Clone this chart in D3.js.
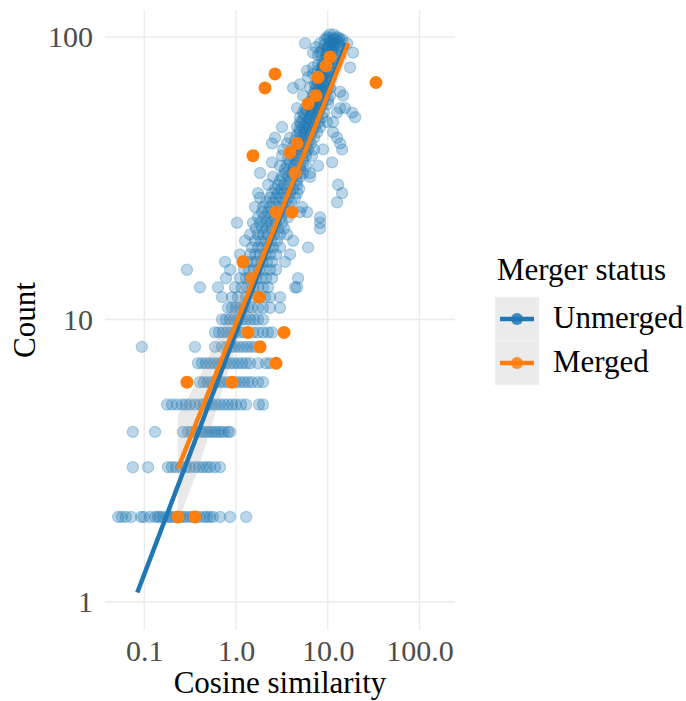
<!DOCTYPE html>
<html>
<head>
<meta charset="utf-8">
<script src="https://cdn.jsdelivr.net/npm/d3@7"></script>
<style>
  body { margin: 0; background: #fff; }
  text { font-family: "Liberation Serif", "DejaVu Serif", serif; }
</style>
</head>
<body>
<script>
// unmerged entities, one row per count: [count, cosine similarities]
let unmergedRows = [
  [2, [0.052, 0.057, 0.063, 0.072, 0.092, 0.099, 0.115, 0.131, 0.141, 0.148, 0.16, 0.177, 0.19, 0.2, 0.22, 0.245, 0.264, 0.285, 0.315, 0.34, 0.366, 0.405, 0.448, 0.482, 0.52, 0.561, 0.669, 0.86, 1.29]],
  [3, [0.075, 0.11, 0.181, 0.2, 0.222, 0.251, 0.285, 0.315, 0.357, 0.395, 0.436, 0.482, 0.521, 0.59, 0.669]],
  [4, [0.075, 0.131, 0.264, 0.3, 0.331, 0.366, 0.405, 0.436, 0.471, 0.507, 0.547, 0.59, 0.637, 0.686, 0.74, 0.818, 0.86]],
  [5, [0.177, 0.2, 0.227, 0.258, 0.285, 0.315, 0.357, 0.405, 0.448, 0.495, 0.547, 0.605, 0.669, 0.74, 0.818, 0.904, 1.0, 1.134, 1.286, 1.78, 1.97]],
  [6, [0.405, 0.448, 0.495, 0.547, 0.605, 0.669, 0.74, 0.818, 1.0, 1.106, 1.223, 1.352, 1.495, 1.739, 1.97]],
  [7, [0.385, 0.426, 0.471, 0.521, 0.576, 0.637, 0.704, 0.778, 0.86, 0.951, 1.052, 1.163, 1.286, 1.422, 1.739, 2.125, 2.35]],
  [8, [0.094, 0.357, 0.59, 0.704, 0.797, 0.882, 0.975, 1.078, 1.192, 1.318, 1.458, 1.612]],
  [9, [0.59, 0.652, 0.721, 0.797, 0.882, 0.975, 1.106, 1.223, 1.533, 1.739, 1.97, 2.235, 2.471]],
  [10, [0.704, 0.778, 0.86, 0.951, 1.052, 1.163, 1.286, 1.422, 1.572, 1.739, 1.97]],
  [11, [0.818, 0.904, 1.0, 1.106, 1.223, 1.352, 1.495, 1.739, 1.97, 2.35, 3.02]],
  [12, [0.704, 0.904, 1.052, 1.286, 1.572, 1.828, 2.072, 2.35, 3.02]],
  [13, [0.405, 0.637, 0.975, 1.163, 1.318, 1.533, 1.739, 1.97, 2.235, 4.4, 4.63]],
  [14, [0.778, 1.106, 1.286, 1.422, 1.653, 1.874, 2.125, 2.471, 4.75]],
  [15, [0.292, 0.86, 1.223, 1.386, 1.572, 1.78, 2.02, 2.35, 2.732]],
  [16, [0.759, 1.318, 1.495, 1.695, 1.922, 2.178, 2.471, 3.425]],
  [17, [1.106, 1.422, 1.612, 1.828, 2.072, 2.35, 2.732, 3.884]],
  [18, [1.495, 1.739, 1.97, 2.235, 2.533, 3.02, 6.106]],
  [19, [1.254, 1.612, 1.874, 2.125, 2.409, 2.8, 4.187]],
  [20, [1.422, 1.739, 1.97, 2.235, 2.598, 3.02, 3.6]],
  [21, [1.653, 1.922, 2.178, 2.471, 2.874, 3.341, 8.25]],
  [22, [1.025, 1.533, 1.828, 2.125, 2.409, 2.732, 3.176, 8.25]],
  [23, [1.739, 2.02, 2.35, 2.664, 3.097, 3.695, 8.25]],
  [24, [1.922, 2.235, 2.598, 3.02, 3.512, 4.99, 5.95]],
  [25, [1.612, 1.97, 2.35, 2.8, 3.257, 3.786, 5.25]],
  [26, [2.125, 2.533, 2.945, 3.425, 3.982, 12.64]],
  [27, [1.828, 2.35, 2.732, 3.176, 3.695, 4.404]],
  [28, [1.739, 2.471, 2.874, 3.341, 3.884, 4.63, 14.34]],
  [29, [2.664, 3.097, 3.6, 4.187, 4.867]],
  [30, [2.235, 2.874, 3.341, 3.884, 4.63, 12.97]],
  [31, [3.0, 3.9, 4.6]],
  [32, [2.533, 3.176, 3.695, 4.294, 4.99, 6.42]],
  [33, [1.828, 3.425, 4.083, 4.75, 5.383, 6.42]],
  [34, [3.4, 4.2, 5.0]],
  [35, [3.02, 3.6, 4.294, 4.99, 5.805, 7.85]],
  [36, [2.471, 3.884, 4.63, 5.383, 11.16]],
  [37, [3.7, 4.5, 5.3]],
  [38, [3.176, 4.083, 4.867, 5.805, 6.75]],
  [39, [4.0, 4.9, 5.7]],
  [40, [3.257, 4.404, 5.25, 6.106, 7.1, 8.9, 14.34]],
  [41, [4.2, 5.0, 5.9]],
  [42, [2.471, 3.6, 4.75, 5.66, 6.58, 13.64]],
  [43, [4.4, 5.3, 6.2]],
  [44, [2.664, 3.884, 5.12, 6.106, 7.1, 12.64]],
  [45, [4.6, 5.5, 6.5]],
  [46, [4.99, 5.66, 6.58, 7.65, 11.44]],
  [47, [4.9, 5.8, 6.8]],
  [48, [3.176, 4.63, 5.52, 6.26, 7.28, 8.25]],
  [49, [5.1, 6.1, 7.2]],
  [50, [4.99, 5.95, 6.92, 8.05, 9.83, 11.44]],
  [51, [5.4, 6.3, 7.5]],
  [52, [4.99, 6.42, 7.46, 8.68, 19.9]],
  [53, [5.6, 6.6, 7.7]],
  [54, [5.383, 6.75, 7.85, 9.13, 12.64, 18.44]],
  [55, [5.9, 6.9, 8.0]],
  [56, [4.63, 5.66, 7.1, 8.25, 13.64, 15.46]],
  [57, [6.2, 7.3, 8.4]],
  [58, [6.42, 7.46, 8.68, 10.09]],
  [59, [6.5, 7.6, 8.8]],
  [60, [6.92, 8.25, 10.09]],
  [61, [6.8, 7.9, 9.1]],
  [62, [5.383, 7.65, 8.9, 10.61, 14.7]],
  [63, [7.0, 8.2, 9.5]],
  [64, [7.65, 8.9, 13.64]],
  [65, [7.3, 8.6, 9.9]],
  [66, [4.187, 6.42, 8.25, 10.61]],
  [67, [7.5, 8.9, 10.3]],
  [68, [4.99, 7.28, 9.36]],
  [69, [7.8, 9.2]],
  [70, [7.85, 9.83]],
  [71, [8.0, 9.5, 10.8]],
  [72, [6.106, 8.68]],
  [73, [8.3, 9.8]],
  [74, [6.92, 9.36]],
  [75, [8.5, 10.1]],
  [76, [5.95, 7.85, 10.61]],
  [77, [8.7, 10.4, 11.6]],
  [78, [6.92, 8.68, 17.53]],
  [79, [8.9, 10.7]],
  [80, [7.85, 12.03]],
  [81, [9.1, 11.0]],
  [83, [8.68, 10.61]],
  [84, [9.4, 11.3]],
  [86, [7.85, 9.83, 13.64]],
  [87, [9.6, 11.6]],
  [88, [6.92, 8.25, 18.9]],
  [89, [9.8, 11.9]],
  [90, [8.68, 11.16]],
  [91, [10.0, 12.2]],
  [92, [7.46, 10.09, 11.44]],
  [93, [10.3, 12.5]],
  [94, [9.2, 11.5]],
  [95, [5.66, 8.25, 12.64, 16.26]],
  [96, [10.8, 13.0]],
  [97, [10.61, 13.64]],
  [98, [9.36, 12.03, 14.34]],
  [99, [10.2, 11.8, 13.3]],
  [100, [9.83, 12.64]],
  [102, [10.5, 11.6]]
];

// merged entities
let mergedSim = [33.6, 2.66, 2.07, 10.6, 9.58, 7.84, 7.45, 6.1, 1.53, 4.63, 3.88, 4.4, 2.73, 4.08, 1.19, 1.49, 1.78, 3.34, 1.35, 1.83, 2.73, 0.292, 0.904, 0.233, 0.357];
let mergedCount = [69, 74, 66, 85, 79, 72, 62, 58, 38, 42, 39, 33, 24, 24, 16, 14, 12, 9, 9, 8, 7, 6, 6, 2, 2];

// fitted lines (log-log), end points [similarity, count]
let unmergedFit = [[0.084, 1.08], [15.8, 95]];
let mergedFit = [[0.233, 2.97], [16.8, 95]];

// confidence band of merged fit
let ribbonSim = [0.233, 0.385, 0.6, 1, 2, 4, 8, 16.8];
let ribbonLow = [1.92, 2.95, 4.7, 8.05, 15.3, 27, 47, 86];
let ribbonHigh = [4.61, 6.1, 8.4, 11.6, 18.9, 32.8, 58, 104];

let xTicks = [0.1, 1, 10, 100];
let yTicks = [1, 10, 100];
let groups = ['Unmerged', 'Merged'];
let colors = ['#1f77b4', '#ff7f0e'];

let width = 686;
let height = 701;
let pLeft = 105, pRight = 455, pTop = 10, pBottom = 630;

let svg = d3.select('body')
            .append('svg')
            .attr('width', width)
            .attr('height', height)
            .style('font-family', '"Liberation Serif", "DejaVu Serif", serif');

let xScale = d3.scaleLog().domain([0.0373, 244]).range([pLeft, pRight]);
let yScale = d3.scaleLog().domain([0.796, 124.6]).range([pBottom, pTop]);

// grid
svg.append('g').selectAll('line')
    .data(xTicks)
    .enter()
    .append('line')
    .attr('x1', d => xScale(d))
    .attr('x2', d => xScale(d))
    .attr('y1', pTop)
    .attr('y2', pBottom)
    .attr('stroke', '#ebebeb')
    .attr('stroke-width', 1.4);

svg.append('g').selectAll('line')
    .data(yTicks)
    .enter()
    .append('line')
    .attr('x1', pLeft)
    .attr('x2', pRight)
    .attr('y1', d => yScale(d))
    .attr('y2', d => yScale(d))
    .attr('stroke', '#ebebeb')
    .attr('stroke-width', 1.4);

// axes (labels only)
let xAxis = d3.axisBottom(xScale).tickValues(xTicks).tickFormat(d3.format('.1f')).tickSize(0).tickPadding(10);
let gx = svg.append('g')
    .attr('transform', 'translate(0,' + pBottom + ')')
    .call(xAxis);

let yAxis = d3.axisLeft(yScale).tickValues(yTicks).tickFormat(d3.format('d')).tickSize(0).tickPadding(12);
let gy = svg.append('g')
    .attr('transform', 'translate(' + pLeft + ',0)')
    .call(yAxis);

[gx, gy].forEach(g => {
    g.attr('font-family', null);
    g.select('.domain').remove();
    g.selectAll('text')
        .attr('fill', '#4d4d4d')
        .style('font-size', '30px');
});

// points
let unmerged = unmergedRows.flatMap(r => r[1].map(s => ({ sim: s, count: r[0] })));

svg.append('g').selectAll('circle')
    .data(unmerged)
    .enter()
    .append('circle')
    .attr('cx', d => xScale(d.sim))
    .attr('cy', d => yScale(d.count))
    .attr('r', 5.6)
    .attr('fill', colors[0])
    .attr('fill-opacity', 0.3)
    .attr('stroke', colors[0])
    .attr('stroke-opacity', 0.3)
    .attr('stroke-width', 1.2);

svg.append('g').selectAll('circle')
    .data(mergedSim)
    .enter()
    .append('circle')
    .attr('cx', d => xScale(d))
    .attr('cy', (d, i) => yScale(mergedCount[i]))
    .attr('r', 6.5)
    .attr('fill', colors[1]);

// confidence band
let band = d3.area()
    .x((d, i) => xScale(d))
    .y0((d, i) => yScale(ribbonLow[i]))
    .y1((d, i) => yScale(ribbonHigh[i]));

svg.append('path')
    .datum(ribbonSim)
    .attr('d', band)
    .attr('fill', '#999999')
    .attr('fill-opacity', 0.22);

// fit lines
let line = d3.line()
    .x(d => xScale(d[0]))
    .y(d => yScale(d[1]));

[unmergedFit, mergedFit].forEach((fit, i) => {
    svg.append('path')
        .datum(fit)
        .attr('d', line)
        .attr('fill', 'none')
        .attr('stroke', colors[i])
        .attr('stroke-width', 4.5);
});

// axis titles
svg.append('text')
    .attr('x', (pLeft + pRight) / 2)
    .attr('y', 693)
    .attr('text-anchor', 'middle')
    .style('font-size', '31px')
    .text('Cosine similarity');

svg.append('text')
    .attr('transform', 'translate(35,' + ((pTop + pBottom) / 2) + ') rotate(-90)')
    .attr('text-anchor', 'middle')
    .style('font-size', '31px')
    .text('Count');

// legend
let legend = svg.append('g').attr('transform', 'translate(495,0)');

legend.append('text')
    .attr('x', 2)
    .attr('y', 280)
    .style('font-size', '31px')
    .text('Merger status');

let keys = legend.selectAll('.key')
    .data(groups)
    .enter()
    .append('g')
    .attr('class', 'key')
    .attr('transform', (d, i) => 'translate(0,' + (297 + i * 44) + ')');

keys.append('rect')
    .attr('width', 44)
    .attr('height', 44)
    .attr('fill', '#ebebeb')
    .attr('stroke', '#f5f5f5')
    .attr('stroke-width', 0.8);

keys.append('line')
    .attr('x1', 5)
    .attr('x2', 39)
    .attr('y1', 22)
    .attr('y2', 22)
    .attr('stroke', (d, i) => colors[i])
    .attr('stroke-width', 4.5);

keys.append('circle')
    .attr('cx', 22)
    .attr('cy', 22)
    .attr('r', 6)
    .attr('fill', (d, i) => colors[i])
    .attr('fill-opacity', 0.85);

keys.append('text')
    .attr('x', 58)
    .attr('y', 31)
    .style('font-size', '31px')
    .text(d => d);
</script>
</body>
</html>
